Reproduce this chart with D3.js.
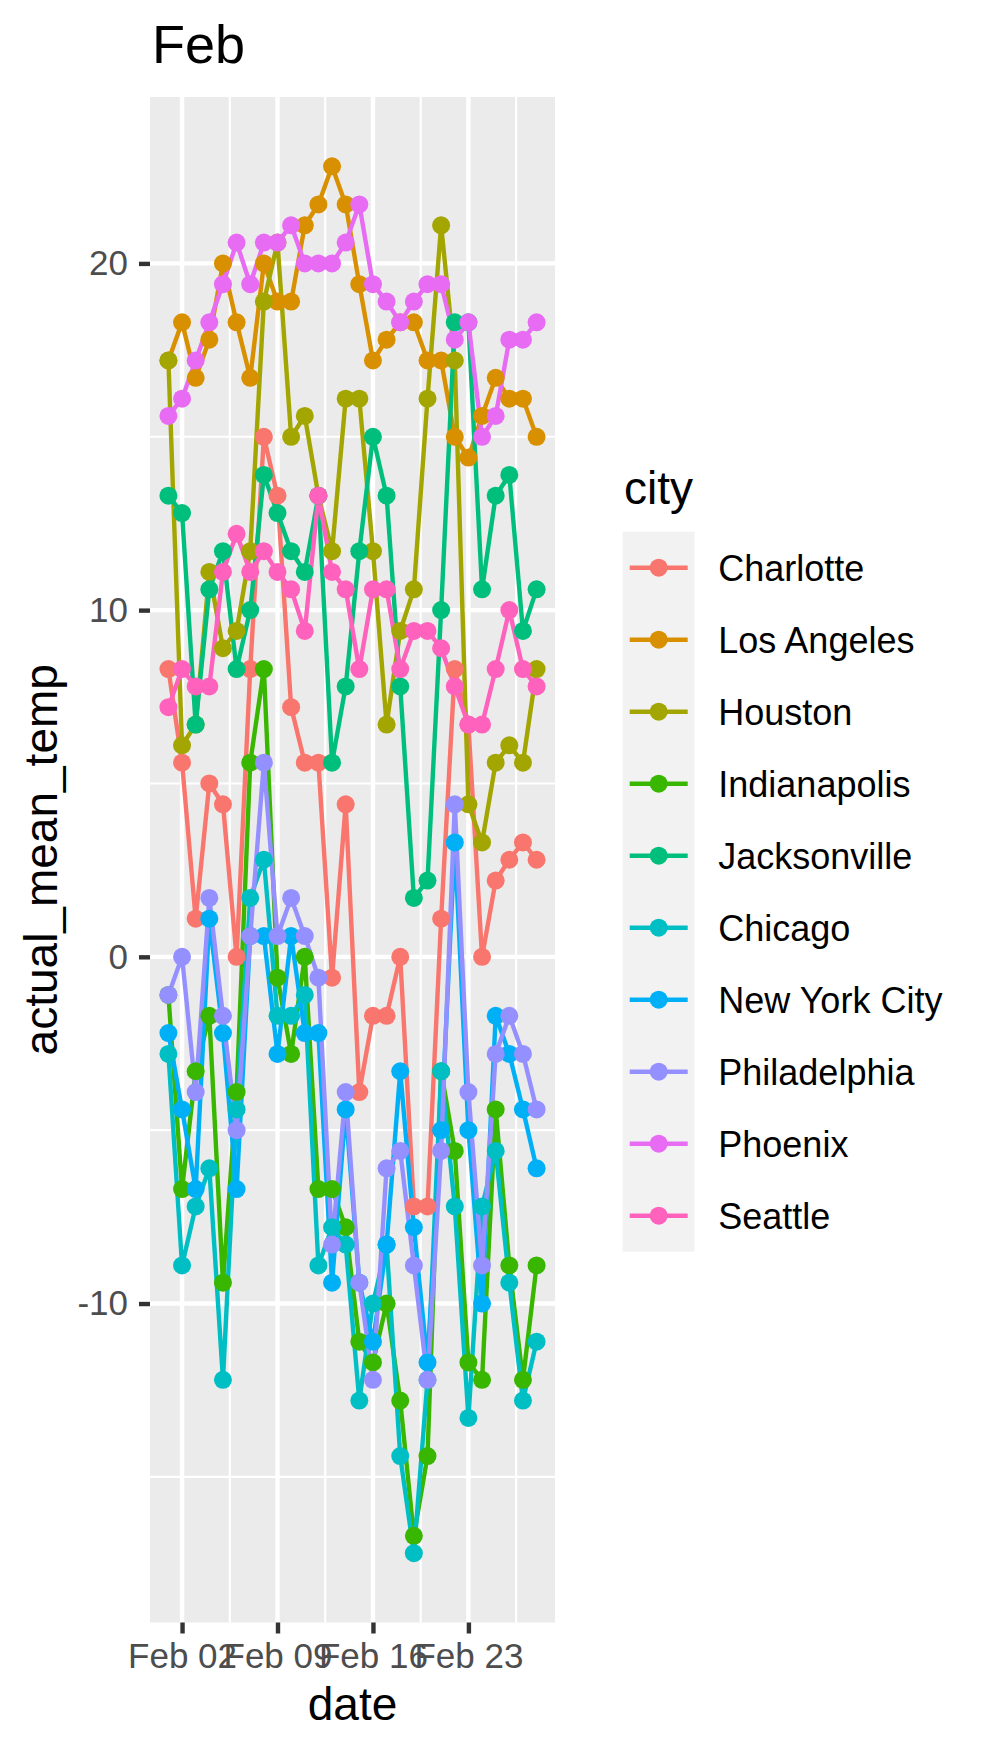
<!DOCTYPE html>
<html>
<head>
<meta charset="utf-8">
<script src="https://cdn.jsdelivr.net/npm/d3@7"></script>
<style>
    body {
        margin: 0;
        background: #fff;
    }

    svg {
        display: block;
        font-family: "Liberation Sans", Arial, Helvetica, sans-serif;
    }
</style>
</head>
<body>
<svg id="chart"></svg>

<script>
    "use strict"

    // daily mean temperature (C), Feb 01 .. Feb 28
    const charlotte = [8.3, 5.6, 1.1, 5.0, 4.4, 0, 8.3, 15.0, 13.3, 7.2, 5.6, 5.6, -0.6, 4.4,
        -3.9, -1.7, -1.7, 0, -7.2, -7.2, 1.1, 8.3, 6.7, 0, 2.2, 2.8, 3.3, 2.8];
    const losAngeles = [17.2, 18.3, 16.7, 17.8, 20.0, 18.3, 16.7, 20.0, 18.9, 18.9, 21.1, 21.7, 22.8, 21.7,
        19.4, 17.2, 17.8, 18.3, 18.3, 17.2, 17.2, 15.0, 14.4, 15.6, 16.7, 16.1, 16.1, 15.0];
    const houston = [17.2, 6.1, 6.7, 11.1, 8.9, 9.4, 11.7, 18.9, 20.6, 15.0, 15.6, 13.3, 11.7, 16.1,
        16.1, 11.7, 6.7, 9.4, 10.6, 16.1, 21.1, 17.2, 4.4, 3.3, 5.6, 6.1, 5.6, 8.3];
    const indianapolis = [-1.1, -6.7, -3.3, -1.7, -9.4, -3.9, 5.6, 8.3, -0.6, -2.8, 0, -6.7, -6.7, -7.8,
        -11.1, -11.7, -10.0, -12.8, -16.7, -14.4, -3.3, -5.6, -11.7, -12.2, -4.4, -8.9, -12.2, -8.9];
    const jacksonville = [13.3, 12.8, 6.7, 10.6, 11.7, 8.3, 10.0, 13.9, 12.8, 11.7, 11.1, 13.3, 5.6, 7.8,
        11.7, 15.0, 13.3, 7.8, 1.7, 2.2, 10.0, 18.3, 18.3, 10.6, 13.3, 13.9, 9.4, 10.6];
    const chicago = [-2.8, -8.9, -7.2, -6.1, -12.2, -4.4, 1.7, 2.8, -1.7, -1.7, -1.1, -8.9, -7.8, -8.3,
        -12.8, -10.0, -8.3, -14.4, -17.2, -12.2, -3.3, -7.2, -13.3, -7.2, -5.6, -9.4, -12.8, -11.1];
    const newYorkCity = [-2.2, -4.4, -6.7, 1.1, -2.2, -6.7, 0.6, 0.6, -2.8, 0.6, -2.2, -2.2, -9.4, -4.4,
        -9.4, -11.1, -8.3, -3.3, -7.8, -11.7, -5.0, 3.3, -5.0, -10.0, -1.7, -2.8, -4.4, -6.1];
    const philadelphia = [-1.1, 0, -3.9, 1.7, -1.7, -5.0, 0.6, 5.6, 0.6, 1.7, 0.6, -0.6, -8.3, -3.9,
        -9.4, -12.2, -6.1, -5.6, -8.9, -12.2, -5.6, 4.4, -3.9, -8.9, -2.8, -1.7, -2.8, -4.4];
    const phoenix = [15.6, 16.1, 17.2, 18.3, 19.4, 20.6, 19.4, 20.6, 20.6, 21.1, 20.0, 20.0, 20.0, 20.6,
        21.7, 19.4, 18.9, 18.3, 18.9, 19.4, 19.4, 17.8, 18.3, 15.0, 15.6, 17.8, 17.8, 18.3];
    const seattle = [7.2, 8.3, 7.8, 7.8, 11.1, 12.2, 11.1, 11.7, 11.1, 10.6, 9.4, 13.3, 11.1, 10.6,
        8.3, 10.6, 10.6, 8.3, 9.4, 9.4, 8.9, 7.8, 6.7, 6.7, 8.3, 10.0, 8.3, 7.8];

    const cities = ["Charlotte", "Los Angeles", "Houston", "Indianapolis", "Jacksonville",
        "Chicago", "New York City", "Philadelphia", "Phoenix", "Seattle"];
    const cityColors = ["#F8766D", "#D89000", "#A3A500", "#39B600", "#00BF7D",
        "#00BFC4", "#00B0F6", "#9590FF", "#E76BF3", "#FF62BC"];
    const cityValues = [charlotte, losAngeles, houston, indianapolis, jacksonville,
        chicago, newYorkCity, philadelphia, phoenix, seattle];

    const days = d3.range(1, 29);
    const xTickDays = [2, 9, 16, 23];
    const xMinorDays = [5.5, 12.5, 19.5, 26.5];
    const yTicks = [-10, 0, 10, 20];
    const yMinor = [-15, -5, 5, 15];

    const width = 995;
    const height = 1754;
    const panel = { left: 150, right: 555, top: 97, bottom: 1622.5 };
    const lineWidth = 4.4;
    const pointRadius = 9;

    const dayDate = d => new Date(Date.UTC(2015, 1, 1) + (d - 1) * 864e5);

    const series = cities.map((city, i) => ({
        city,
        color: cityColors[i],
        values: days.map((d, j) => ({ date: dayDate(d), temp: cityValues[i][j] }))
    }));

    const svg = d3.select("#chart")
        .attr("width", width)
        .attr("height", height);

    svg.append("rect")
        .attr("width", width)
        .attr("height", height)
        .attr("fill", "#fff");

    // ggplot style 5% expansion
    const xPad = (days.length - 1) * 0.05;
    const x = d3.scaleUtc()
        .domain([dayDate(1 - xPad), dayDate(days.length + xPad)])
        .range([panel.left, panel.right]);

    const [yMin, yMax] = d3.extent(cityValues.flat());
    const yPad = (yMax - yMin) * 0.05;
    const y = d3.scaleLinear()
        .domain([yMin - yPad, yMax + yPad])
        .range([panel.bottom, panel.top]);

    // panel background + grid
    svg.append("rect")
        .attr("x", panel.left)
        .attr("y", panel.top)
        .attr("width", panel.right - panel.left)
        .attr("height", panel.bottom - panel.top)
        .attr("fill", "#EBEBEB");

    const grid = svg.append("g").attr("stroke", "#fff");

    grid.selectAll(".y-minor")
        .data(yMinor)
        .join("line")
        .attr("x1", panel.left).attr("x2", panel.right)
        .attr("y1", d => y(d)).attr("y2", d => y(d))
        .attr("stroke-width", lineWidth / 2);

    grid.selectAll(".x-minor")
        .data(xMinorDays)
        .join("line")
        .attr("y1", panel.top).attr("y2", panel.bottom)
        .attr("x1", d => x(dayDate(d))).attr("x2", d => x(dayDate(d)))
        .attr("stroke-width", lineWidth / 2);

    grid.append("g").selectAll("line")
        .data(yTicks)
        .join("line")
        .attr("x1", panel.left).attr("x2", panel.right)
        .attr("y1", d => y(d)).attr("y2", d => y(d))
        .attr("stroke-width", lineWidth);

    grid.append("g").selectAll("line")
        .data(xTickDays)
        .join("line")
        .attr("y1", panel.top).attr("y2", panel.bottom)
        .attr("x1", d => x(dayDate(d))).attr("x2", d => x(dayDate(d)))
        .attr("stroke-width", lineWidth);

    // axes
    const xAxis = d3.axisBottom(x)
        .tickValues(xTickDays.map(dayDate))
        .tickFormat(d3.utcFormat("%b %d"))
        .tickSize(11)
        .tickPadding(10);

    const yAxis = d3.axisLeft(y)
        .tickValues(yTicks)
        .tickFormat(d => String(d))
        .tickSize(11)
        .tickPadding(11);

    function styleAxis(g) {
        g.select(".domain").remove();
        g.selectAll(".tick line")
            .attr("stroke", "#333333")
            .attr("stroke-width", lineWidth);
        g.selectAll(".tick text")
            .attr("fill", "#4D4D4D")
            .style("font-size", "35px");
    }

    svg.append("g")
        .attr("transform", `translate(0,${panel.bottom})`)
        .call(xAxis)
        .call(styleAxis);

    svg.append("g")
        .attr("transform", `translate(${panel.left},0)`)
        .call(yAxis)
        .call(styleAxis);

    // lines then points
    const line = d3.line()
        .x(d => x(d.date))
        .y(d => y(d.temp));

    svg.append("g")
        .selectAll("path")
        .data(series)
        .join("path")
        .attr("d", d => line(d.values))
        .attr("fill", "none")
        .attr("stroke", d => d.color)
        .attr("stroke-width", lineWidth)
        .attr("stroke-linejoin", "round");

    svg.append("g")
        .selectAll("g")
        .data(series)
        .join("g")
        .attr("fill", d => d.color)
        .selectAll("circle")
        .data(d => d.values)
        .join("circle")
        .attr("cx", d => x(d.date))
        .attr("cy", d => y(d.temp))
        .attr("r", pointRadius);

    // titles
    svg.append("text")
        .attr("x", 152)
        .attr("y", 63)
        .style("font-size", "54px")
        .text("Feb");

    svg.append("text")
        .attr("x", (panel.left + panel.right) / 2)
        .attr("y", 1720)
        .attr("text-anchor", "middle")
        .style("font-size", "46px")
        .text("date");

    svg.append("text")
        .attr("transform", `translate(57,${(panel.top + panel.bottom) / 2}) rotate(-90)`)
        .attr("text-anchor", "middle")
        .style("font-size", "46px")
        .text("actual_mean_temp");

    // legend
    const legend = svg.append("g").attr("transform", "translate(622.7,531.7)");
    const keySize = 72;

    svg.append("text")
        .attr("x", 624)
        .attr("y", 504)
        .style("font-size", "46px")
        .text("city");

    legend.append("rect")
        .attr("width", keySize)
        .attr("height", keySize * cities.length)
        .attr("fill", "#F2F2F2");

    const key = legend.selectAll(".key")
        .data(series)
        .join("g")
        .attr("transform", (d, i) => `translate(0,${keySize * i + keySize / 2})`);

    key.append("line")
        .attr("x1", 7).attr("x2", 65)
        .attr("stroke", d => d.color)
        .attr("stroke-width", lineWidth);

    key.append("circle")
        .attr("cx", keySize / 2)
        .attr("r", pointRadius)
        .attr("fill", d => d.color);

    key.append("text")
        .attr("x", 95.6)
        .attr("y", 13)
        .style("font-size", "36px")
        .text(d => d.city);
</script>
</body>
</html>
